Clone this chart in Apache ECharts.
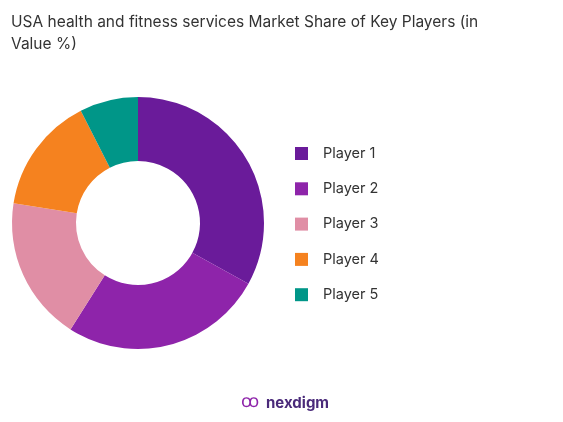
<!DOCTYPE html>
<html><head><meta charset="utf-8">
<script src="https://cdn.jsdelivr.net/npm/echarts@6/dist/echarts.min.js"></script>
<style>html,body{margin:0;padding:0;background:#fff}#c{width:563px;height:422px}</style>
</head><body><div id="c"></div>
<script>
const categories = ["Player 1","Player 2","Player 3","Player 4","Player 5"];
const values = [33, 26, 18.5, 15, 7.5];
const colors = ["#6a1b9a","#8e24aa","#e08ea5","#f5821f","#009688"];
const chart = echarts.init(document.getElementById('c'));
chart.setOption({
  animation:false,
  color: colors,
  title:{text:"USA health and fitness services Market Share of Key Players (in\nValue %)",left:6,top:6,
    textStyle:{fontFamily:"Inter",fontSize:15.5,fontWeight:"normal",color:"#333",lineHeight:22}},
  legend:{orient:"vertical",left:290,top:141,itemWidth:13,itemHeight:13,itemGap:20.3,icon:"rect",
    textStyle:{fontFamily:"Inter",fontSize:14.5,color:"#333",padding:[0,0,0,10]},data:categories},
  series:[{type:"pie",radius:[62,126],center:[138,223],startAngle:90,clockwise:true,
    label:{show:false},labelLine:{show:false},
    data:categories.map((n,i)=>({name:n,value:values[i]}))}],
  graphic:[{type:"text",left:266,top:396,style:{text:"nexdigm",fontFamily:"Inter",fontSize:15,fontWeight:"bold",fill:"#4a2a7a"}},
    {type:"text",left:241,top:393,style:{text:"ꝏ",fontSize:18,fill:"#8e24aa"}}]
});
</script></body></html>
